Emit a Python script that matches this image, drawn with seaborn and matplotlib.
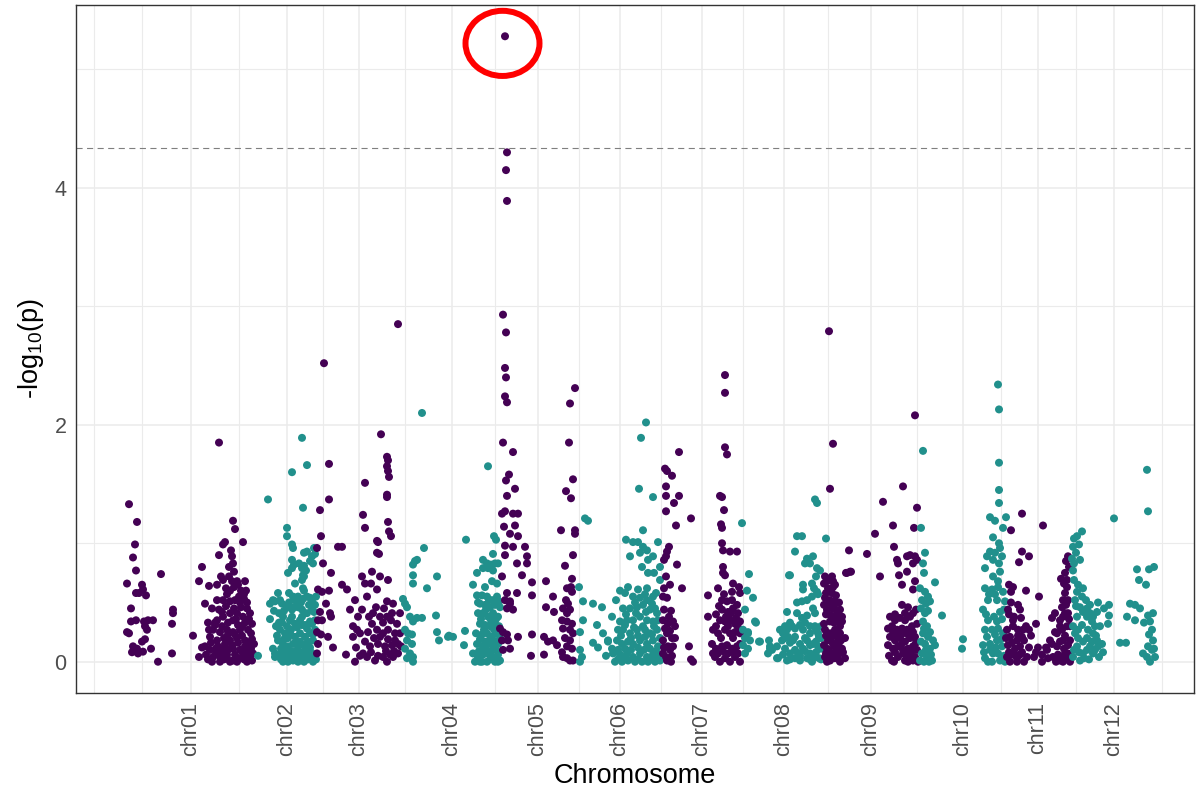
import numpy as np
import pandas as pd
import seaborn as sns
import matplotlib
matplotlib.use("Agg")
import matplotlib.pyplot as plt
from matplotlib.patches import Ellipse

# ---- data: (cumulative position, -log10 p) per chromosome ----
chroms = ["chr01", "chr02", "chr03", "chr04", "chr05", "chr06",
          "chr07", "chr08", "chr09", "chr10", "chr11", "chr12"]

chr01 = [(129,1.33),(137,1.18),(135,0.99),(133,0.88),(136,0.77),(127,0.66),(142,0.65),(143,0.61),
         (136,0.58),(139,0.58),(146,0.56),(131,0.45),(131,0.34),(136,0.35),(144,0.34),(148,0.35),
         (153,0.35),(145,0.30),(147,0.27),(127,0.25),(129,0.24),(145,0.19),(142,0.17),(133,0.13),
         (137,0.11),(132,0.08),(138,0.07),(143,0.085),(151,0.11),(158,0.0),(161,0.74),(173,0.44),
         (173,0.41),(172,0.32),(172,0.07),(193,0.22),(199,0.04),(199,0.68),(202,0.80),(209,0.64),
         (205,0.49),(212,0.45),(219,1.85),(233,1.19),(235,1.12),(225,1.01),(243,1.01),(223,0.99),
         (231,0.94),(232,0.89),(219,0.90),(233,0.83),(234,0.76),(229,0.80),(221,0.72),(229,0.72),
         (223,0.69),(217,0.65),(237,0.68),(245,0.68),(234,0.63),(241,0.60),(246,0.60),(230,0.60),
         (227,0.57),(217,0.52),(223,0.52),(230,0.51),(235,0.52),(241,0.46),(247,0.45),(237,0.41),
         (230,0.41),(223,0.38),(217,0.35),(233,0.35),(243,0.38),(250,0.41),(209,0.27),(213,0.27),
         (220,0.25),(227,0.27),(233,0.25),(240,0.27),(248,0.27),(251,0.24),(210,0.21),(217,0.18),
         (224,0.20),(230,0.18),(237,0.20),(245,0.18),(252,0.19),(205,0.13),(210,0.10),(216,0.11),
         (222,0.11),(228,0.10),(233,0.11),(240,0.10),(247,0.10),(251,0.11),(213,0.04),(220,0.04),
         (227,0.03),(233,0.01),(240,0.03),(248,0.03),(252,0.01),(230,0.0),(237,0.0),(220,0.0),
         (247,0.0),(212,0.0),(227,0.06),(235,0.06),(243,0.07),(222,0.07),(226,0.47),(219,0.44),
         (239,0.55),(244,0.53),(228,0.33),(238,0.31),(245,0.33),(215,0.31),(253,0.07),(254,0.15),
         (206,0.06),(202,0.12),(208,0.33),(252,0.32),(215,0.33),(222,0.30),(236,0.36),(242,0.30),
         (249,0.36),(211,0.16),(218,0.13),(225,0.15),(232,0.14),(238,0.16),(245,0.13),(250,0.16),
         (208,0.02),(216,0.07),(224,0.02),(236,0.03),(244,0.02),(249,0.06),(228,0.23),(235,0.23),
         (242,0.22),(222,0.42),(234,0.45),(240,0.50),(247,0.50),(226,0.62),(238,0.65),(232,0.68),
         (244,0.57)]

chr02 = [(258,0.05),(268,1.37),(292,1.60),(302,1.89),(307,1.66),(303,1.30),(287,1.13),(287,1.06),
         (292,0.99),(293,0.96),(314,0.96),(304,0.92),(307,0.93),(312,0.89),(315,0.91),(292,0.86),
         (294,0.82),(299,0.83),(302,0.79),(304,0.81),(306,0.77),(310,0.85),(313,0.83),(288,0.75),
         (292,0.79),(303,0.73),(304,0.72),(295,0.66),(303,0.62),(302,0.69),(278,0.58),(273,0.52),
         (280,0.52),(275,0.51),(270,0.49),(282,0.49),(289,0.58),(293,0.55),(298,0.55),(303,0.53),
         (307,0.55),(312,0.51),(315,0.48),(274,0.43),(279,0.41),(270,0.36),(276,0.30),(283,0.38),
         (287,0.46),(292,0.44),(297,0.48),(302,0.44),(307,0.41),(312,0.44),(290,0.35),(295,0.32),
         (300,0.35),(305,0.31),(310,0.34),(315,0.35),(280,0.27),(285,0.24),(290,0.24),(295,0.21),
         (300,0.24),(305,0.21),(310,0.24),(315,0.27),(278,0.18),(283,0.15),(288,0.13),(293,0.15),
         (298,0.13),(303,0.14),(308,0.17),(313,0.18),(275,0.07),(280,0.06),(285,0.07),(290,0.04),
         (295,0.06),(300,0.04),(305,0.07),(310,0.04),(315,0.06),(283,0.0),(288,0.0),(293,0.01),
         (298,0.0),(304,0.0),(313,0.0),(275,0.04),(273,0.11),(282,0.33),(297,0.29),(307,0.28),
         (292,0.38),(302,0.38),(288,0.20),(300,0.17),(310,0.12),(285,0.11),(296,0.09),(306,0.10),
         (312,0.32),(277,0.22),(281,0.02),(308,0.02),(301,0.50),(295,0.52),(289,0.50),(304,0.60),
         (298,0.46),(284,0.43),(294,0.46),(309,0.48),(314,0.42),(279,0.33),(287,0.30),(302,0.31),
         (291,0.27),(296,0.16),(306,0.15),(284,0.19),(291,0.09),(302,0.08),(311,0.08),(287,0.02),
         (296,0.03),(306,0.03),(316,0.02),(313,0.23),(281,0.11),(310,0.54),(316,0.55)]

chr03 = [(324,2.52),(398,2.85),(381,1.92),(329,1.67),(329,1.37),(320,1.28),(321,1.06),(317,0.96),
         (323,0.83),(331,0.75),(318,0.61),(322,0.59),(329,0.60),(326,0.49),(330,0.41),(331,0.38),
         (320,0.42),(318,0.35),(322,0.35),(317,0.25),(321,0.23),(328,0.21),(318,0.15),(317,0.07),
         (333,0.12),(338,0.97),(342,0.97),(342,0.65),(347,0.61),(346,0.06),(365,1.51),(363,1.24),
         (365,1.13),(377,1.02),(378,1.01),(377,0.92),(379,0.91),(387,1.73),(388,1.70),(387,1.65),
         (388,1.61),(389,1.56),(387,1.41),(387,1.39),(388,1.18),(389,1.10),(391,1.06),(362,0.72),
         (365,0.66),(372,0.76),(380,0.72),(388,0.69),(371,0.66),(355,0.52),(350,0.44),(362,0.44),
         (367,0.55),(377,0.61),(387,0.51),(393,0.49),(380,0.38),(387,0.38),(373,0.41),(353,0.30),
         (357,0.27),(360,0.24),(368,0.25),(377,0.27),(383,0.24),(388,0.27),(395,0.24),(353,0.21),
         (365,0.17),(370,0.13),(378,0.15),(385,0.13),(392,0.14),(398,0.15),(363,0.07),(367,0.04),
         (375,0.01),(383,0.04),(390,0.06),(393,0.04),(398,0.07),(400,0.41),(400,0.24),(401,0.13),
         (356,0.12),(360,0.05),(371,0.08),(378,0.05),(386,0.09),(394,0.09),(374,0.20),(380,0.21),
         (388,0.19),(395,0.18),(372,0.32),(383,0.33),(391,0.35),(397,0.32),(376,0.46),(384,0.45),
         (392,0.41),(369,0.38),(358,0.38),(355,0.0),(387,0.0)]

chr04 = [(422,2.10),(424,0.96),(415,0.85),(417,0.86),(413,0.82),(413,0.73),(413,0.66),(427,0.62),
         (437,0.72),(403,0.53),(405,0.49),(407,0.46),(410,0.38),(417,0.37),(422,0.37),(413,0.34),
         (436,0.39),(405,0.27),(408,0.24),(412,0.23),(407,0.18),(412,0.15),(405,0.11),(410,0.07),
         (413,0.04),(407,0.03),(413,0.0),(437,0.25),(439,0.18),(449,0.22),(453,0.21),(466,1.03),
         (465,0.26),(464,0.14),(488,1.65),(494,1.06),(496,1.03),(483,0.86),(487,0.83),(491,0.82),
         (495,0.83),(498,0.83),(493,0.91),(477,0.75),(483,0.79),(488,0.79),(493,0.77),(473,0.65),
         (485,0.63),(492,0.68),(497,0.66),(477,0.56),(482,0.56),(487,0.55),(492,0.52),(497,0.55),
         (480,0.49),(485,0.48),(490,0.46),(495,0.48),(500,0.46),(478,0.41),(483,0.41),(488,0.38),
         (493,0.41),(498,0.38),(480,0.32),(485,0.31),(490,0.30),(495,0.32),(476,0.24),(482,0.23),
         (487,0.24),(492,0.21),(497,0.24),(477,0.15),(483,0.13),(488,0.15),(493,0.13),(498,0.15),
         (473,0.07),(478,0.04),(483,0.06),(488,0.07),(493,0.04),(498,0.06),(475,0.0),(482,0.0),
         (487,0.0),(495,0.0),(500,0.01),(448,0.21),(480,0.19),(485,0.17),(490,0.19),(495,0.17),
         (500,0.20),(479,0.09),(486,0.10),(491,0.09),(496,0.10),(480,0.0),(490,0.02),(498,0.0),
         (484,0.27),(494,0.27),(499,0.30),(481,0.36),(491,0.35),(496,0.36),(486,0.44),(478,0.50),
         (489,0.52),(499,0.51)]

chr05 = [(505,5.28),(507,4.30),(506,4.15),(507,3.89),(503,2.93),(506,2.78),(505,2.48),(506,2.40),
         (505,2.24),(507,2.19),(575,2.31),(503,1.85),(513,1.77),(509,1.58),(506,1.53),(515,1.46),
         (507,1.40),(502,1.25),(505,1.27),(513,1.25),(518,1.25),(504,1.14),(515,1.15),(510,1.08),
         (518,1.06),(505,0.98),(513,0.97),(525,0.97),(505,0.90),(527,0.89),(527,0.83),(517,0.83),
         (502,0.72),(522,0.73),(532,0.67),(507,0.58),(517,0.58),(532,0.56),(505,0.52),(510,0.51),
         (507,0.45),(513,0.44),(510,0.49),(500,0.28),(503,0.25),(507,0.23),(502,0.18),(508,0.18),
         (503,0.10),(510,0.11),(518,0.21),(532,0.23),(531,0.05),(546,0.68),(553,0.55),(546,0.46),
         (554,0.42),(544,0.21),(548,0.17),(553,0.18),(557,0.14),(544,0.06),(561,1.11),(570,2.18),
         (569,1.85),(573,1.54),(566,1.44),(571,1.38),(575,1.11),(575,1.08),(573,0.90),(565,0.81),
         (572,0.70),(571,0.63),(567,0.62),(572,0.59),(566,0.52),(568,0.49),(563,0.45),(570,0.44),
         (567,0.41),(562,0.35),(567,0.34),(572,0.32),(563,0.28),(570,0.27),(573,0.24),(565,0.20),
         (570,0.18),(567,0.13),(572,0.11),(563,0.04),(567,0.03),(570,0.01),(573,0.01),(562,0.08)]

chr06 = [(579,0.63),(585,1.21),(588,1.19),(583,0.51),(593,0.49),(602,0.46),(580,0.25),(583,0.35),
         (580,0.10),(582,0.04),(580,0.0),(593,0.16),(608,0.18),(626,1.03),(641,1.89),(646,2.02),
         (639,1.46),(653,1.39),(643,1.11),(633,1.01),(638,1.01),(643,0.97),(658,1.01),(630,0.89),
         (640,0.92),(647,0.94),(653,0.89),(648,0.86),(642,0.80),(648,0.75),(654,0.75),(660,0.80),
         (660,0.69),(628,0.63),(638,0.61),(647,0.62),(656,0.58),(633,0.55),(640,0.54),(647,0.52),
         (652,0.49),(623,0.45),(630,0.45),(637,0.46),(643,0.48),(650,0.44),(657,0.41),(620,0.34),
         (627,0.35),(633,0.35),(640,0.38),(647,0.35),(653,0.34),(658,0.35),(618,0.27),(623,0.27),
         (630,0.24),(637,0.27),(643,0.30),(650,0.24),(657,0.27),(617,0.18),(622,0.15),(628,0.17),
         (633,0.15),(640,0.18),(647,0.15),(653,0.18),(658,0.13),(613,0.07),(620,0.06),(627,0.07),
         (633,0.04),(640,0.07),(647,0.04),(653,0.06),(658,0.04),(615,0.0),(622,0.0),(628,0.01),
         (635,0.0),(642,0.0),(648,0.0),(655,0.0),(608,0.17),(612,0.11),(597,0.31),(603,0.24),
         (612,0.38),(606,0.05),(598,0.12),(616,0.52),(620,0.60),(625,0.58),(626,0.40),(636,0.41),
         (646,0.42),(655,0.45),(625,0.31),(634,0.29),(645,0.27),(654,0.30),(621,0.22),(631,0.20),
         (638,0.22),(645,0.21),(652,0.23),(660,0.20),(618,0.10),(625,0.11),(631,0.10),(638,0.12),
         (644,0.10),(650,0.11),(656,0.09),(618,0.02),(625,0.03),(638,0.02),(651,0.02),(660,0.01),
         (635,0.50),(645,0.57),(653,0.55)]

chr07 = [(725,2.42),(725,2.27),(679,1.77),(665,1.63),(667,1.61),(672,1.57),(666,1.48),(679,1.40),
         (666,1.40),(674,1.34),(666,1.27),(691,1.21),(676,1.15),(669,0.97),(667,0.93),(666,0.89),
         (664,0.86),(677,0.82),(682,0.62),(663,0.55),(667,0.54),(664,0.44),(671,0.43),(663,0.35),
         (668,0.32),(673,0.34),(675,0.30),(667,0.24),(672,0.20),(675,0.20),(663,0.18),(668,0.13),
         (673,0.13),(663,0.07),(667,0.01),(671,0.0),(689,0.13),(691,0.02),(693,0.0),(725,1.81),
         (727,1.75),(720,1.40),(722,1.39),(724,1.28),(721,1.16),(722,1.13),(722,1.00),(723,0.94),
         (730,0.93),(737,0.93),(723,0.80),(723,0.75),(725,0.73),(718,0.62),(733,0.66),(739,0.63),
         (740,0.58),(708,0.56),(722,0.52),(727,0.51),(732,0.52),(737,0.48),(722,0.44),(728,0.42),
         (733,0.45),(738,0.41),(708,0.38),(720,0.35),(725,0.34),(730,0.35),(735,0.32),(740,0.34),
         (713,0.27),(718,0.24),(725,0.27),(730,0.24),(735,0.25),(740,0.24),(712,0.15),(716,0.11),
         (722,0.13),(727,0.14),(732,0.11),(737,0.13),(740,0.15),(715,0.04),(720,0.0),(725,0.03),
         (730,0.0),(735,0.04),(740,0.0),(713,0.07),(716,0.30),(721,0.20),(728,0.30),(733,0.20),
         (738,0.29),(718,0.07),(723,0.09),(728,0.07),(733,0.08),(738,0.07),(716,0.40),(726,0.38),
         (731,0.41),(736,0.37),(719,0.47),(732,0.59),(724,0.57),(665,0.28),(670,0.26),(664,0.12),
         (670,0.10),(666,0.04),(672,0.05),(669,0.38),(664,0.62),(670,0.65),(666,0.72)]

chr08 = [(742,1.17),(749,0.74),(747,0.60),(753,0.54),(743,0.27),(748,0.24),(745,0.20),(750,0.18),
         (743,0.14),(748,0.11),(745,0.07),(756,0.33),(759,0.17),(769,0.18),(770,0.11),(772,0.10),
         (778,0.03),(789,0.73),(797,1.06),(787,0.42),(783,0.24),(787,0.27),(792,0.30),(797,0.41),
         (788,0.21),(793,0.18),(787,0.01),(795,0.03),(798,0.07),(815,1.37),(817,1.34),(802,1.06),
         (826,1.04),(807,0.87),(813,0.89),(805,0.83),(820,0.77),(816,0.72),(803,0.61),(814,0.62),
         (817,0.59),(812,0.55),(807,0.52),(802,0.51),(813,0.45),(807,0.39),(802,0.37),(803,0.27),
         (810,0.24),(815,0.30),(818,0.24),(807,0.18),(813,0.15),(818,0.13),(803,0.11),(810,0.07),
         (815,0.04),(807,0.03),(812,0.0),(819,0.03),(821,0.30),(819,0.21),(782,0.18),(785,0.11),
         (790,0.07),(780,0.27),(777,0.13),(790,0.73),(795,0.93),(810,0.83),(817,0.79),(803,0.65),
         (812,0.66),(818,0.57),(797,0.50),(815,0.41),(745,0.44),(755,0.34),(748,0.25),(760,0.17),
         (770,0.13),(777,0.03),(768,0.07),(785,0.30),(790,0.33),(795,0.28),(800,0.31),(805,0.33),
         (810,0.30),(816,0.27),(821,0.20),(785,0.20),(790,0.16),(795,0.21),(800,0.15),(805,0.20),
         (810,0.14),(816,0.17),(821,0.11),(790,0.02),(795,0.10),(800,0.05),(805,0.09),(810,0.02),
         (816,0.08),(821,0.02),(800,0.01),(783,0.06)]

chr09 = [(829,2.79),(915,2.08),(833,1.84),(830,1.46),(825,0.72),(827,0.68),(832,0.72),(833,0.68),
         (828,0.62),(832,0.58),(833,0.63),(825,0.54),(830,0.52),(835,0.51),(827,0.44),(832,0.45),
         (837,0.42),(840,0.44),(842,0.38),(833,0.37),(838,0.35),(842,0.34),(830,0.34),(825,0.27),
         (830,0.24),(835,0.27),(840,0.24),(828,0.18),(833,0.15),(838,0.18),(827,0.11),(832,0.07),
         (837,0.10),(843,0.08),(842,0.11),(825,0.04),(830,0.01),(835,0.03),(827,0.0),(849,0.94),
         (846,0.75),(851,0.76),(867,0.91),(875,1.08),(880,0.72),(883,1.35),(893,1.15),(903,1.48),
         (894,0.97),(897,0.86),(898,0.83),(907,0.89),(910,0.90),(915,0.89),(913,0.83),(917,0.86),
         (917,1.30),(914,1.13),(899,0.73),(907,0.76),(915,0.68),(913,0.61),(902,0.65),(916,0.44),
         (913,0.41),(890,0.38),(895,0.35),(900,0.37),(905,0.35),(910,0.38),(892,0.30),(897,0.27),
         (902,0.28),(907,0.27),(912,0.30),(917,0.32),(890,0.21),(895,0.18),(900,0.20),(905,0.17),
         (910,0.20),(915,0.21),(893,0.11),(898,0.13),(903,0.10),(908,0.11),(913,0.13),(917,0.10),
         (892,0.01),(898,0.04),(905,0.01),(910,0.03),(915,0.04),(903,0.07),(900,0.24),(824,0.66),
         (829,0.70),(835,0.65),(826,0.58),(836,0.56),(824,0.48),(829,0.50),(834,0.47),(839,0.50),
         (826,0.40),(831,0.39),(836,0.38),(824,0.32),(834,0.33),(840,0.30),(826,0.22),(831,0.20),
         (836,0.22),(841,0.18),(824,0.14),(829,0.10),(835,0.13),(840,0.12),(826,0.07),(832,0.03),
         (838,0.05),(845,0.03),(840,0.0),(845,0.20),(847,0.75),(850,0.76),(888,0.28),(893,0.24),
         (898,0.21),(903,0.24),(908,0.23),(913,0.25),(888,0.14),(895,0.08),(901,0.14),(906,0.06),
         (911,0.08),(916,0.16),(889,0.05),(894,0.0),(908,0.0),(913,0.01),(918,0.0),(895,0.40),
         (905,0.41),(908,0.46),(902,0.48)]

chr10 = [(998,2.34),(923,1.78),(921,1.13),(925,0.92),(923,0.83),(924,0.75),(935,0.67),(920,0.62),
         (925,0.59),(928,0.55),(922,0.52),(926,0.49),(930,0.51),(942,0.39),(925,0.41),(923,0.34),
         (927,0.30),(923,0.24),(928,0.21),(933,0.18),(925,0.15),(930,0.11),(922,0.07),(927,0.04),
         (932,0.01),(920,0.01),(935,0.14),(963,0.19),(962,0.11),(999,2.13),(999,1.68),(999,1.45),
         (999,1.34),(990,1.22),(995,1.19),(1006,1.22),(1003,1.13),(993,1.05),(999,1.00),(1000,0.96),
         (990,0.93),(995,0.92),(1002,0.89),(987,0.89),(993,0.86),(999,0.83),(985,0.79),(1000,0.76),
         (993,0.72),(998,0.68),(985,0.62),(992,0.61),(998,0.63),(1003,0.59),(988,0.52),(997,0.52),
         (983,0.44),(1000,0.42),(1005,0.51),(985,0.27),(992,0.27),(998,0.28),(988,0.35),(997,0.34),
         (983,0.14),(990,0.15),(997,0.18),(1002,0.13),(985,0.03),(993,0.07),(1000,0.01),(992,0.0),
         (998,0.07),(1003,0.24),(986,0.40),(994,0.38),(1002,0.36),(987,0.21),(995,0.23),(1001,0.19),
         (984,0.08),(990,0.10),(996,0.12),(1004,0.05),(988,0.0),(1005,0.0),(989,0.57),(995,0.57),
         (1004,0.44),(921,0.45),(928,0.43),(924,0.28),(930,0.25),(921,0.17),(926,0.10),(931,0.06),
         (924,0.0),(929,0.0)]

chr11 = [(1022,1.25),(1011,1.11),(1022,0.93),(1029,0.89),(1019,0.84),(1009,0.65),(1013,0.63),
         (1011,0.59),(1026,0.60),(1011,0.50),(1018,0.48),(1020,0.44),(1009,0.40),(1014,0.38),
         (1039,0.55),(1043,1.15),(1036,0.32),(1007,0.27),(1013,0.30),(1018,0.27),(1023,0.27),
         (1029,0.27),(1010,0.21),(1017,0.18),(1022,0.21),(1008,0.14),(1015,0.11),(1020,0.13),
         (1012,0.06),(1017,0.03),(1007,0.04),(1020,0.06),(1036,0.08),(1042,0.0),(1047,0.10),
         (1053,0.04),(1060,0.01),(1065,0.07),(1057,0.13),(1052,0.15),(1063,0.18),(1057,0.24),
         (1062,0.27),(1067,0.30),(1052,0.37),(1055,0.41),(1060,0.35),(1065,0.41),(1062,0.46),
         (1067,0.51),(1065,0.58),(1067,0.63),(1067,0.69),(1065,0.75),(1068,0.89),(1068,0.52),
         (1063,0.52),(1068,0.41),(1070,0.30),(1070,0.18),(1068,0.07),(1070,0.0),(1063,0.0),
         (1006,0.20),(1012,0.16),(1018,0.22),(1024,0.18),(1029,0.12),(1009,0.08),(1015,0.06),
         (1022,0.08),(1027,0.04),(1010,0.0),(1017,0.0),(1024,0.0),(1013,0.35),(1008,0.44),
         (1021,0.37),(1026,0.30),(1031,0.22),(1061,0.70),(1064,0.66),(1066,0.48),(1063,0.38),
         (1069,0.36),(1060,0.30),(1065,0.22),(1060,0.17),(1068,0.14),(1064,0.11),(1058,0.06),
         (1063,0.03),(1067,0.02),(1055,0.25),(1050,0.18),(1046,0.12),(1042,0.06),(1038,0.12),
         (1048,0.03),(1056,0.0),(1069,0.80),(1066,0.85),(1034,0.04)]

chr12 = [(1074,1.04),(1077,1.06),(1082,1.10),(1073,0.97),(1072,0.87),(1074,0.83),(1073,0.77),
         (1074,0.69),(1078,0.65),(1083,0.62),(1077,0.59),(1082,0.55),(1075,0.52),(1080,0.46),
         (1087,0.45),(1090,0.41),(1093,0.38),(1098,0.50),(1097,0.42),(1087,0.38),(1092,0.34),
         (1095,0.30),(1088,0.27),(1093,0.24),(1087,0.20),(1092,0.17),(1097,0.18),(1087,0.10),
         (1093,0.07),(1098,0.13),(1103,0.08),(1102,0.15),(1077,0.38),(1075,0.24),(1077,0.13),
         (1073,0.04),(1080,0.01),(1083,0.07),(1109,0.48),(1109,0.39),(1108,0.32),(1114,1.21),
         (1120,0.16),(1126,0.16),(1127,0.38),(1130,0.49),(1135,0.48),(1140,0.45),(1135,0.35),
         (1144,0.33),(1137,0.78),(1139,0.69),(1146,0.65),(1149,0.78),(1154,0.80),(1147,1.62),
         (1148,1.27),(1148,0.39),(1153,0.41),(1150,0.34),(1152,0.27),(1149,0.23),(1153,0.18),
         (1148,0.13),(1152,0.10),(1155,0.04),(1147,0.04),(1150,0.0),(1143,0.07),(1154,0.11),
         (1073,0.30),(1078,0.27),(1082,0.31),(1078,0.20),(1083,0.17),(1079,0.08),(1084,0.03),
         (1074,0.10),(1089,0.02),(1095,0.10),(1099,0.04),(1090,0.13),(1096,0.22),(1083,0.42),
         (1086,0.52),(1076,0.47),(1090,0.48),(1100,0.30),(1104,0.45),(1080,0.86),(1076,0.92),
         (1079,0.99)]

points = [chr01, chr02, chr03, chr04, chr05, chr06,
          chr07, chr08, chr09, chr10, chr11, chr12]
sig_threshold = 4.335

# ---- build long table ----
frames = []
for name, pts in zip(chroms, points):
    arr = np.asarray(pts, dtype=float)
    frames.append(pd.DataFrame({"chrom": name, "pos": arr[:, 0], "logp": arr[:, 1]}))
df = pd.concat(frames, ignore_index=True)

# axis breaks at the middle of each chromosome's span
span = df.groupby("chrom", sort=False)["pos"].agg(["min", "max"])
centers = ((span["min"] + span["max"]) / 2).to_numpy()

palette = {c: ("#440154" if i % 2 == 0 else "#21908C") for i, c in enumerate(chroms)}

# ---- style ----
sns.set_theme(style="white")
plt.rcParams["font.family"] = ["Liberation Sans", "DejaVu Sans"]
plt.rcParams["mathtext.fontset"] = "custom"
plt.rcParams["mathtext.rm"] = "Liberation Sans"
plt.rcParams["mathtext.it"] = "Liberation Sans:italic"

fig = plt.figure(figsize=(11.96, 7.96), dpi=100)
ax = fig.add_axes([76 / 1196, 1 - 693 / 796, 1118 / 1196, 688 / 796])

sns.scatterplot(data=df, x="pos", y="logp", hue="chrom", palette=palette,
                s=33, linewidth=0, alpha=1, legend=False, ax=ax, zorder=3)

ax.axhline(sig_threshold, color="#7F7F7F", lw=0.8, dashes=(5.5, 4.0), zorder=2)

# ---- scales ----
ymax = df["logp"].max()
pad = 0.05 * ymax
ax.set_ylim(-pad, ymax + pad)
ax.set_xlim(76, 1194)

ax.set_yticks([0, 2, 4])
ax.set_yticks([1, 3, 5], minor=True)
step = centers[1] - centers[0]
ext = np.concatenate([[centers[0] - step], centers, [centers[-1] + step]])
minor_x = np.concatenate([[ext[0]], (ext[:-1] + ext[1:]) / 2])
ax.set_xticks(centers)
ax.set_xticklabels(chroms, rotation=90)
ax.set_xticks(minor_x, minor=True)

ax.grid(True, which="major", color="#EBEBEB", lw=1.1, zorder=0)
ax.grid(True, which="minor", color="#EBEBEB", lw=0.8, zorder=0)
ax.set_axisbelow(True)

for sp in ax.spines.values():
    sp.set_color("#333333")
    sp.set_linewidth(1.0)

ax.tick_params(axis="both", which="major", direction="out", length=3.8, width=0.9,
               color="#333333", labelcolor="#4D4D4D", labelsize=15.5, pad=3)
ax.tick_params(axis="both", which="minor", length=0)

ax.set_xlabel("Chromosome", fontsize=19.5, color="black", labelpad=5)
ax.set_ylabel(r"-log$_{10}$(p)", fontsize=19.5, color="black", labelpad=6)

# highlight the top association
top = df.loc[df["logp"].idxmax()]
ax.add_patch(Ellipse((top["pos"] - 2.5, top["logp"] - 0.06), width=74, height=0.55,
                     fill=False, edgecolor="#FF0000", lw=4.3, zorder=4, clip_on=False))

fig.savefig("out.png", dpi=100)
